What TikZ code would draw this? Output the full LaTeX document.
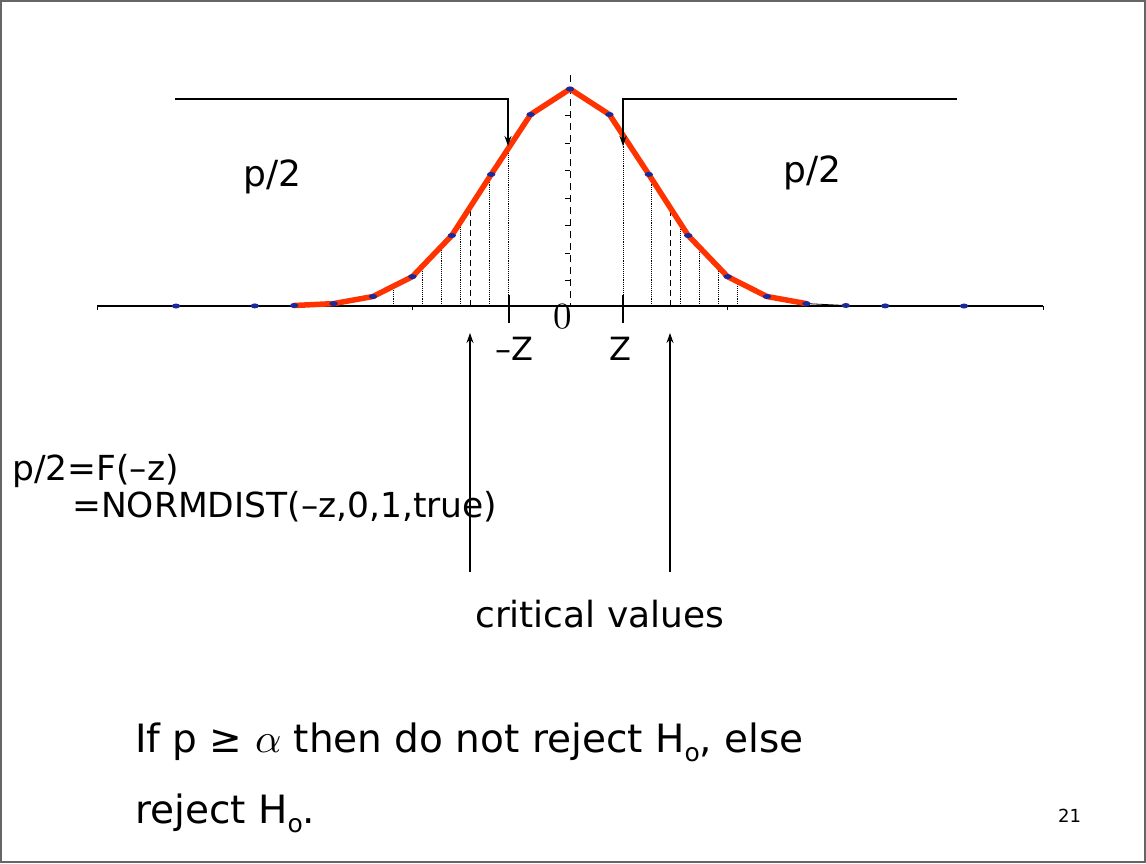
\documentclass[tikz,border=0pt]{standalone}
\usepackage{graphicx}
\usepackage{fontspec}
\newfontfamily\dv{DejaVu Sans}
\usetikzlibrary{arrows.meta}
\definecolor{curvered}{HTML}{FF3300}
\definecolor{dotblue}{HTML}{1A2A9A}
\definecolor{framegray}{HTML}{666666}
\newcommand{\bigalpha}{{\fontsize{10}{12}\selectfont\scalebox{4.1}{$\alpha$}}}
\begin{document}
\begin{tikzpicture}[x=1pt,y=-1pt,
  lbl/.style={font=\dv\fontsize{34.5}{37}\selectfont, inner sep=0pt},
  biglbl/.style={font=\dv\fontsize{39}{71}\selectfont, inner sep=0pt},
  hatch/.style={densely dotted, line width=0.9pt},
  hatchdash/.style={dash pattern=on 6pt off 4pt, line width=1pt},
  axisline/.style={line width=1.4pt},
  redcurve/.style={curvered, line width=5.5pt, line join=round, line cap=round},
  thincurve/.style={line width=0.8pt},
  bluedot/.style={fill=dotblue, draw=none},
  arr/.style={line width=1.2pt, -{Stealth[length=10pt,width=7pt]}}]
\useasboundingbox (0,0) rectangle (1146,863);
% frame
\draw[framegray, line width=2pt] (1,1) rectangle (1145,862);
% hatch lines left
\foreach \x/\y in {393/286.4,422/266.6,441/246.8,460/222.8,489/177.8,508/148.9}
  \draw[hatch] (\x,306) -- (\x,\y);
\draw[hatchdash] (470,306) -- (470,207.3);
% hatch lines right
\foreach \x/\y in {623/135.2,651/177.8,680/222.8,699/246.8,718/266.6,737/281.4}
  \draw[hatch] (\x,306) -- (\x,\y);
\draw[hatchdash] (670,306) -- (670,207.3);
% central dashed line with ticks
\draw[dash pattern=on 7pt off 5pt, line width=1pt] (570,75) -- (570,306);
\foreach \y in {115,143,170,198,225,253,280}
  \draw[line width=1pt] (565,\y) -- (570,\y);
% axis
\draw[axisline] (97,306) -- (1043,306);
\foreach \x in {97,412,727,1043}
  \draw[line width=1pt] (\x,306) -- (\x,310);
% z ticks
\draw[line width=1.3pt] (509,295) -- (509,323);
\draw[line width=1.3pt] (623,295) -- (623,323);
% curves
\draw[thincurve] (176,306) -- (254.8,305.9) -- (294.2,305.5) -- (333.6,303.6)
  -- (373,296.5) -- (412.4,276.6) -- (451.8,235.5) -- (491.2,174.4) -- (530.6,114.5)
  -- (570,89) -- (609.4,114.5) -- (648.8,174.4) -- (688.2,235.5) -- (727.6,276.6)
  -- (767,296.5) -- (806.4,303.6) -- (845.8,305.5) -- (885.2,305.9) -- (964,306);
\draw[redcurve] (294.2,305.5) -- (333.6,303.6)
  -- (373,296.5) -- (412.4,276.6) -- (451.8,235.5) -- (491.2,174.4) -- (530.6,114.5)
  -- (570,89) -- (609.4,114.5) -- (648.8,174.4) -- (688.2,235.5) -- (727.6,276.6)
  -- (767,296.5) -- (806.4,303.6);
\foreach \x/\y in {176/306,254.8/305.9,294.2/305.5,333.6/303.6,373/296.5,412.4/276.6,
  451.8/235.5,491.2/174.4,530.6/114.5,570/89,609.4/114.5,648.8/174.4,688.2/235.5,
  727.6/276.6,767/296.5,806.4/303.6,845.8/305.5,885.2/305.9,964/306}
  \fill[bluedot] (\x,\y) ellipse [x radius=4.2pt, y radius=2.5pt];
% top arrows
\coordinate (tl) at (175,99);
\coordinate (tlend) at (508,146);
\coordinate (tr) at (957,99);
\coordinate (trend) at (623,146);
\draw[arr] (tl) -| (tlend);
\draw[arr] (tr) -| (trend);
% bottom arrows
\coordinate (bl) at (470,572);
\coordinate (blend) at (470,333);
\coordinate (br) at (670,572);
\coordinate (brend) at (670,333);
\draw[arr] (bl) -- (blend);
\draw[arr] (br) -- (brend);
% labels
\node[inner sep=0pt, anchor=base] (zero) at (563,328) {\scalebox{3.7}{0}};
\node[lbl, font=\dv\fontsize{32}{32}\selectfont, anchor=base] (mz) at (514,360) {–Z};
\node[lbl, font=\dv\fontsize{32}{32}\selectfont, anchor=base] (pz) at (620,360) {Z};
\node[lbl, font=\dv\fontsize{36}{36}\selectfont, anchor=base west] (pl) at (243,186) {p/2};
\node[lbl, font=\dv\fontsize{36}{36}\selectfont, anchor=base west] (pr) at (783,182) {p/2};
\node[lbl, anchor=base west] (f1) at (12,480) {p/2=F(–z)};
\node[lbl, anchor=base west] (f2) at (72,517) {=NORMDIST(–z,0,1,true)};
\node[lbl, font=\dv\fontsize{36}{36}\selectfont, anchor=base west] (cv) at (475,627) {critical values};
\node[biglbl, anchor=base west] (r1) at (135,752) {If p ≥ \bigalpha{} then do not reject H{\fontsize{25}{25}\selectfont\raisebox{-9pt}{o}}, else};
\node[biglbl, anchor=base west] (r2) at (135,823) {reject H{\fontsize{25}{25}\selectfont\raisebox{-9pt}{o}}.};
\node[inner sep=0pt, font=\dv\fontsize{18}{18}\selectfont, anchor=base west] (pg) at (1058,822) {21};
\end{tikzpicture}
\end{document}
